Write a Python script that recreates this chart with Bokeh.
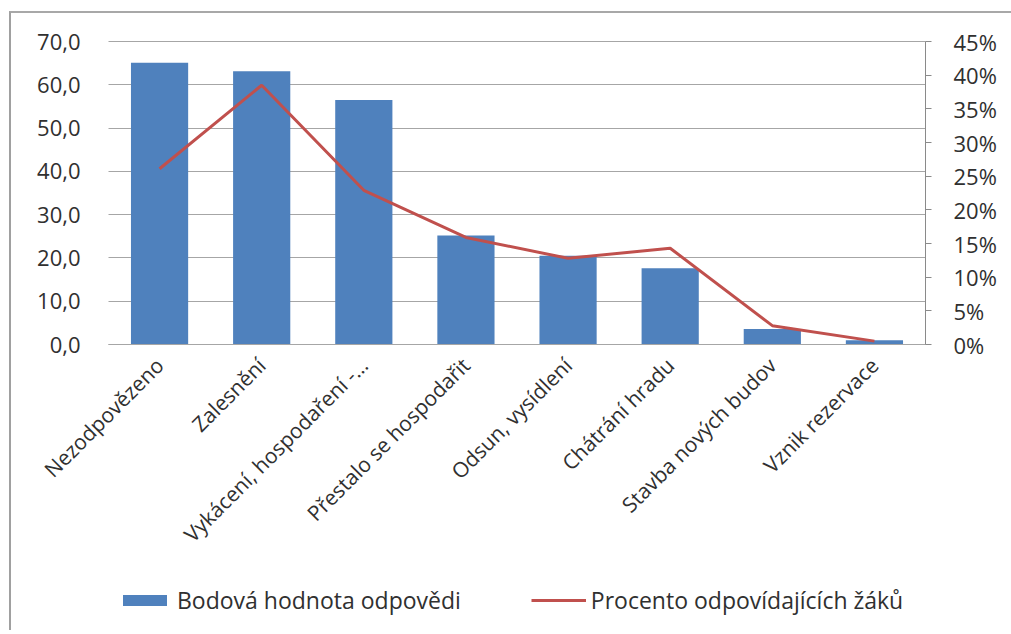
import math
from bokeh.plotting import figure
from bokeh.models import (Range1d, LinearAxis, FixedTicker, Legend, LegendItem)
from bokeh.embed import file_html
from bokeh.resources import INLINE

# ---- data ----
categories = ["Nezodpovězeno", "Zalesnění", "Vykácení, hospodaření -…",
              "Přestalo se hospodařit", "Odsun, vysídlení", "Chátrání hradu",
              "Stavba nových budov", "Vznik rezervace"]
points = [65.1, 63.1, 56.5, 25.2, 20.5, 17.6, 3.6, 1.0]          # Bodová hodnota odpovědi
percent = [26.1, 38.5, 22.9, 15.9, 12.8, 14.3, 2.8, 0.5]         # Procento odpovídajících žáků (%)
left_ticks = [0, 10, 20, 30, 40, 50, 60, 70]
left_tick_labels = ["0,0", "10,0", "20,0", "30,0", "40,0", "50,0", "60,0", "70,0"]
right_ticks = [0, 5, 10, 15, 20, 25, 30, 35, 40, 45]
right_tick_labels = ["0%", "5%", "10%", "15%", "20%", "25%", "30%", "35%", "40%", "45%"]
series_names = ["Bodová hodnota odpovědi", "Procento odpovídajících žáků"]

FONT = "Open Sans"
TXT = "#303030"
BLUE = "#4F81BD"
RED = "#C0504D"
GRID = "#a6a6a6"

# ---- layout (pixels) ----
CW, CH = 1000, 617                 # canvas = frame
PL, PR, PT, PB = 97, 86, 28, 286   # plot-area offsets inside the canvas
PW, PH = CW - PL - PR, CH - PT - PB
n = len(categories)
idx = list(range(n))
cat_px = PW / n
x0, x1 = -0.5, n - 0.5
ymax, pmax = left_ticks[-1], right_ticks[-1]

p = figure(x_range=Range1d(x0 - PL / cat_px, x1 + PR / cat_px),
           y_range=Range1d(-ymax * PB / PH, ymax + ymax * PT / PH),
           frame_width=CW, frame_height=CH,
           min_border=0, output_backend="svg", toolbar_location=None)
p.margin = (11, 0, 0, 9)
p.styles = {"border-left": "2px solid #a0a0a0", "border-top": "2px solid #a8a8a8"}
p.outline_line_color = None
p.extra_y_ranges = {"pct": Range1d(-pmax * PB / PH, pmax + pmax * PT / PH)}

# grid lines limited to the plot area
p.xgrid.grid_line_color = None
p.ygrid.ticker = FixedTicker(ticks=left_ticks)
p.ygrid.grid_line_color = GRID
try:
    p.ygrid[0].cross_bounds = (x0, x1)
except Exception:
    p.ygrid.grid_line_color = None
    p.segment(x0=[x0] * len(left_ticks), x1=[x1] * len(left_ticks),
              y0=left_ticks, y1=left_ticks, line_color=GRID, line_width=1)

bars = p.vbar(x=idx, top=points, width=0.56, color=BLUE, line_color=None)
line = p.line(x=idx, y=percent, y_range_name="pct", color=RED, line_width=3)

# left axis
ya = p.yaxis[0]
ya.fixed_location = x0
ya.bounds = (0, ymax)
ya.ticker = FixedTicker(ticks=left_ticks)
ya.major_label_overrides = dict(zip(left_ticks, left_tick_labels))
ya.axis_line_color = None
ya.major_tick_line_color = None
ya.minor_tick_line_color = None
ya.major_label_standoff = 22
ya.major_label_text_font = FONT
ya.major_label_text_font_size = "22px"
ya.major_label_text_color = TXT

# right axis
ra = LinearAxis(y_range_name="pct", ticker=FixedTicker(ticks=right_ticks),
                fixed_location=x1, bounds=(0, pmax))
ra.major_label_overrides = dict(zip(right_ticks, right_tick_labels))
ra.axis_line_color = "#8a8a8a"
ra.major_tick_line_color = "#8a8a8a"
ra.major_tick_out = 6
ra.major_tick_in = 0
ra.minor_tick_line_color = None
ra.major_label_standoff = 22
ra.major_label_text_font = FONT
ra.major_label_text_font_size = "22px"
ra.major_label_text_color = TXT
p.add_layout(ra, "right")

# category axis
xa = p.xaxis[0]
xa.fixed_location = 0
xa.bounds = (x0, x1)
xa.ticker = FixedTicker(ticks=idx)
xa.major_label_overrides = dict(zip(idx, categories))
xa.major_label_orientation = math.pi / 4
xa.axis_line_color = GRID
xa.major_tick_line_color = None
xa.minor_tick_line_color = None
xa.major_label_standoff = 11
xa.major_label_text_font = FONT
xa.major_label_text_font_size = "21px"
xa.major_label_text_color = TXT

legend = Legend(items=[LegendItem(label=series_names[0], renderers=[bars]),
                       LegendItem(label=series_names[1], renderers=[line])],
                location=(106, 14), orientation="horizontal",
                border_line_color=None, background_fill_alpha=0,
                padding=0, margin=0, spacing=70,
                glyph_width=55, glyph_height=14,
                label_standoff=5, label_text_font=FONT,
                label_text_font_size="23px", label_text_color=TXT)
p.add_layout(legend, "center")

open("out.html", "w").write(file_html(p, INLINE))
